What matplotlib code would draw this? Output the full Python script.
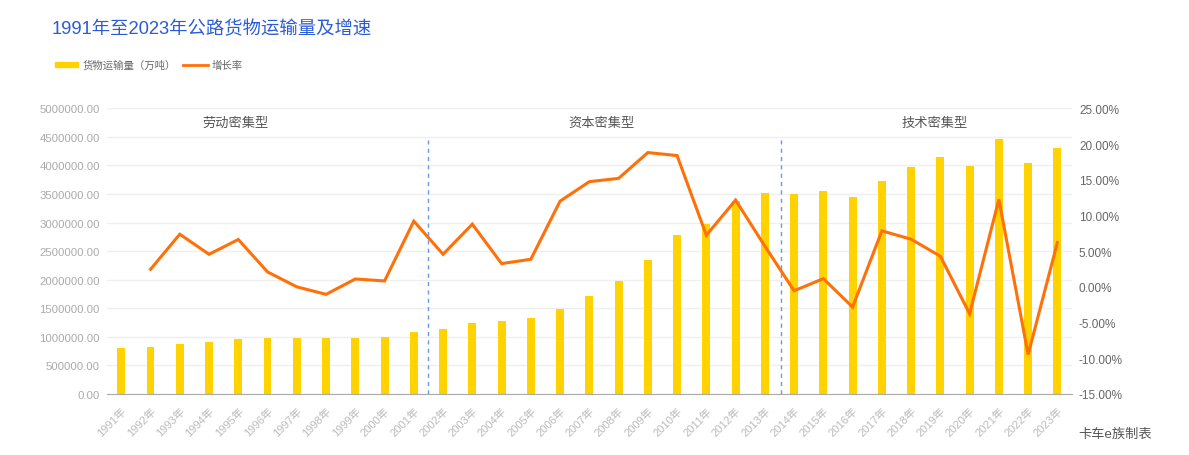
import matplotlib
matplotlib.use("Agg")
from matplotlib import pyplot as plt
from matplotlib.ticker import FuncFormatter, MultipleLocator

plt.rcParams['font.family'] = ['Liberation Sans', 'Noto Sans CJK SC']
plt.rcParams['axes.unicode_minus'] = False

years = [str(y) + '年' for y in range(1991, 2024)]

# 货物运输量（万吨）
volume = [800000, 817000, 875000, 910000, 968000, 986000, 986000, 980000,
          986000, 998000, 1090000, 1140000, 1243000, 1283000, 1330000,
          1493000, 1715000, 1972000, 2345000, 2777000, 2975000, 3380000,
          3523000, 3505000, 3547000, 3453000, 3722000, 3967000, 4142000,
          3990000, 4468000, 4048000, 4305000]

# 增长率（%），1991年无数据
growth = [None, 2.46, 7.37, 4.56, 6.63, 2.09, 0.0, -1.05, 1.1, 0.83, 9.2,
          4.56, 8.78, 3.26, 3.86, 12.0, 14.73, 15.19, 18.8, 18.38, 7.23,
          12.15, 5.7, -0.55, 1.15, -2.83, 7.84, 6.67, 4.29, -3.77, 12.24,
          -9.47, 6.2]

stages = ['劳动密集型', '资本密集型', '技术密集型']
stage_pos = [3.9, 16.4, 27.8]
stage_bounds = [10.5, 22.55]

BAR = '#FFD200'
LINE = '#FF7008'

fig = plt.figure(figsize=(11.89, 4.56), dpi=100)
ax = fig.add_axes([0.0897, 0.1338, 0.8119, 0.6265])
ax2 = ax.twinx()

x = list(range(len(years)))
ax.bar(x, volume, width=0.27, color=BAR, zorder=2)

gx = [i for i, g in zip(x, growth) if g is not None]
gy = [g for g in growth if g is not None]
ax2.plot(gx, gy, color=LINE, lw=2.2, solid_joinstyle='miter', zorder=3)

ax.set_xlim(-0.5, len(years) - 0.5)
ax.set_ylim(0, 5000000)
ax.yaxis.set_major_locator(MultipleLocator(500000))
ax.yaxis.set_major_formatter(FuncFormatter(lambda v, p: '%.2f' % v))
ax2.set_ylim(-15, 25)
ax2.yaxis.set_major_locator(MultipleLocator(5))
ax2.yaxis.set_major_formatter(FuncFormatter(lambda v, p: '%.2f%%' % v))

ax.grid(axis='y', color='#EFEFEF', lw=1, zorder=0)
ax.set_axisbelow(True)
for a in (ax, ax2):
    for s in a.spines.values():
        s.set_visible(False)
ax.spines['bottom'].set_visible(True)
ax.spines['bottom'].set_color('#AAAAAA')

ax.set_xticks(x)
ax.set_xticklabels(years, rotation=45, ha='right', rotation_mode='anchor',
                   fontsize=8, color='#BBBBBB')
ax.tick_params(axis='x', length=0, pad=8)
ax.tick_params(axis='y', length=0, pad=5, labelsize=8.2, labelcolor='#AAAAAA')
ax2.tick_params(axis='y', length=0, pad=5, labelsize=8.5, labelcolor='#666666')

for b in stage_bounds:
    ax.vlines(b, 0, 4450000, colors='#6A9BE0', lw=1, linestyles=(0, (3, 3)),
              zorder=4)
for name, px in zip(stages, stage_pos):
    ax.text(px, 4745000, name, ha='center', va='center', fontsize=9.5,
            color='#555555')

fig.text(0.0435, 1 - 29.5 / 456, '1991年至2023年公路货物运输量及增速',
         fontsize=13.2, color='#2C5BD6', ha='left', va='center')

# legend
fig.patches.append(plt.Rectangle((55 / 1189, 1 - 68 / 456), 23 / 1189, 5 / 456,
                                 transform=fig.transFigure, color=BAR))
fig.text(83 / 1189, 1 - 65.5 / 456, '货物运输量（万吨）', fontsize=7.5,
         color='#666666', va='center')
fig.lines.append(plt.Line2D([183 / 1189, 208 / 1189], [1 - 65.5 / 456] * 2,
                            transform=fig.transFigure, color=LINE, lw=2))
fig.text(212 / 1189, 1 - 65.5 / 456, '增长率', fontsize=7.5,
         color='#666666', va='center')

fig.text(1078 / 1189, 1 - 435 / 456, '卡车e族制表', fontsize=9.5,
         color='#555555', va='center')

fig.savefig('out.png', dpi=100, facecolor='white')
